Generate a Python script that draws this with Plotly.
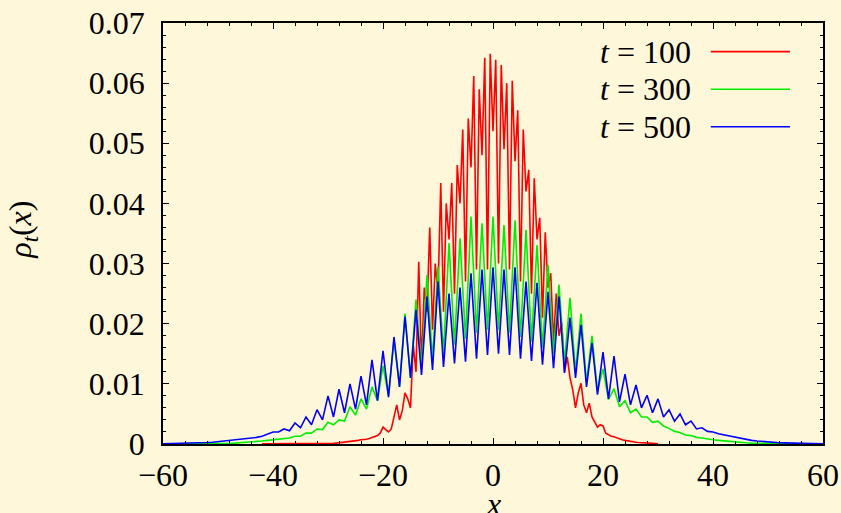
import numpy as np
import plotly.graph_objects as go

# Density profiles rho_t(x) at three times
x_int = np.arange(-60, 61, 1)          # lattice grid for t = 300 and t = 500
x_red = np.arange(-42, 30.5, 0.5)      # finer grid for t = 100

rho_100 = [
    # -42 .. -30.5
    0.00002, 0.00002, 0.00002, 0.00002, 0.00002, 0.00002, 0.00002, 0.00002,
    0.00002, 0.00002, 0.00002, 0.00002, 0.00002, 0.00002, 0.00002, 0.00002,
    0.00002, 0.00002, 0.00002, 0.00002, 0.00003, 0.00003, 0.00004, 0.00004,
    # -30 .. -0.5
    0.00005, 0.00008, 0.0001, 0.00015, 0.0002, 0.00025, 0.0003, 0.0003,
    0.0004, 0.0004, 0.0005, 0.0006, 0.0007, 0.0007, 0.0008, 0.0009,
    0.0011, 0.0012, 0.0014, 0.0018, 0.0028, 0.0024, 0.002, 0.0025,
    0.0045, 0.0065, 0.004, 0.0055, 0.0085, 0.0075, 0.006, 0.0165,
    0.012, 0.0303, 0.013, 0.026, 0.022, 0.036, 0.019, 0.030,
    0.025, 0.0434, 0.022, 0.040, 0.034, 0.0434, 0.025, 0.0464,
    0.040, 0.0523, 0.027, 0.0541, 0.046, 0.0612, 0.029, 0.059,
    0.048, 0.0642, 0.029, 0.0649,
    # 0 .. 30
    0.052, 0.0639, 0.030, 0.063, 0.049, 0.060, 0.029, 0.0604,
    0.047, 0.0555, 0.027, 0.0523, 0.042, 0.0456, 0.025, 0.0442,
    0.034, 0.0376, 0.021, 0.0352, 0.026, 0.0284, 0.017, 0.025,
    0.018, 0.0201, 0.012, 0.0145, 0.011, 0.009, 0.006, 0.0085,
    0.0101, 0.0065, 0.0052, 0.0068, 0.0045, 0.0035, 0.0028, 0.0032,
    0.0030, 0.0018, 0.0015, 0.0013, 0.0012, 0.0010, 0.0008, 0.0007,
    0.0006, 0.0005, 0.0004, 0.00035, 0.0003, 0.00025, 0.0002, 0.00018,
    0.00015, 0.00012, 0.0001, 0.00008, 0.00005,
]

rho_300 = [
    # -60 .. -1
    0.00001, 0.00001, 0.00001, 0.00002, 0.00002, 0.00002, 0.00003, 0.00004,
    0.00005, 0.00006, 0.00008, 0.0001, 0.00012, 0.00015, 0.0002, 0.00025,
    0.0003, 0.0004, 0.0005, 0.0006, 0.0007, 0.0008, 0.001, 0.001,
    0.0013, 0.0013, 0.0018, 0.0018, 0.0025, 0.0024, 0.0036, 0.0032,
    0.0040, 0.0038, 0.0062, 0.0048, 0.0075, 0.0058, 0.0095, 0.0072,
    0.0130, 0.0080, 0.0173, 0.0095, 0.0217, 0.0110, 0.0240, 0.0125,
    0.0281, 0.0140, 0.0295, 0.0150, 0.0334, 0.0165, 0.0342, 0.0175,
    0.0378, 0.0185, 0.0367, 0.0190,
    # 0 .. 60
    0.0378, 0.0190, 0.0364, 0.0185, 0.0372, 0.0178, 0.0356, 0.0170,
    0.0331, 0.0160, 0.0298, 0.0150, 0.0265, 0.0135, 0.0243, 0.0120,
    0.0217, 0.0102, 0.0180, 0.0088, 0.0125, 0.0074, 0.0092, 0.0062,
    0.0072, 0.0052, 0.0058, 0.0045, 0.0045, 0.0036, 0.0038, 0.0030,
    0.0026, 0.0021, 0.0019, 0.0015, 0.0014, 0.0011, 0.0010, 0.0008,
    0.0007, 0.0006, 0.0005, 0.0004, 0.0003, 0.00025, 0.0002, 0.00015,
    0.00012, 0.0001, 0.00008, 0.00006, 0.00005, 0.00004, 0.00003, 0.00002,
    0.00002, 0.00002, 0.00001, 0.00001, 0.00001,
]

rho_500 = [
    # -60 .. -1
    0.00005, 0.00006, 0.00008, 0.0001, 0.0001, 0.00012, 0.00015, 0.0002,
    0.00025, 0.0003, 0.0004, 0.00045, 0.0005, 0.0006, 0.0007, 0.0008,
    0.0010, 0.0011, 0.0013, 0.0016, 0.0020, 0.0020, 0.0025, 0.0022,
    0.0035, 0.0027, 0.0045, 0.0032, 0.0057, 0.0040, 0.0080, 0.0045,
    0.0091, 0.0052, 0.0100, 0.0058, 0.0113, 0.0065, 0.0140, 0.0072,
    0.0155, 0.0078, 0.0178, 0.0095, 0.0212, 0.0110, 0.0223, 0.0115,
    0.0245, 0.0123, 0.0270, 0.0128, 0.0250, 0.0134, 0.0260, 0.0137,
    0.0284, 0.0142, 0.0290, 0.0148,
    # 0 .. 60
    0.0294, 0.0150, 0.0290, 0.0148, 0.0294, 0.0142, 0.0270, 0.0138,
    0.0268, 0.0132, 0.0253, 0.0126, 0.0245, 0.0118, 0.0210, 0.0110,
    0.0198, 0.0095, 0.0168, 0.0082, 0.0153, 0.0075, 0.0146, 0.0070,
    0.0116, 0.0065, 0.0098, 0.0060, 0.0081, 0.0052, 0.0075, 0.0045,
    0.0057, 0.0038, 0.0050, 0.0032, 0.0038, 0.0025, 0.0027, 0.0021,
    0.0020, 0.0017, 0.0015, 0.0013, 0.0012, 0.0010, 0.0008, 0.0006,
    0.0005, 0.0004, 0.0003, 0.00025, 0.0002, 0.00018, 0.00015, 0.00012,
    0.0001, 0.0001, 0.00008, 0.00006, 0.00005,
]

series = [
    ("<i>t</i> = 100", x_red, rho_100, "#ff0000"),
    ("<i>t</i> = 300", x_int, rho_300, "#00ee00"),
    ("<i>t</i> = 500", x_int, rho_500, "#0000ff"),
]

x_ticks = [-60, -40, -20, 0, 20, 40, 60]
y_ticks = [0, 0.01, 0.02, 0.03, 0.04, 0.05, 0.06, 0.07]
y_labels = ["0", "0.01", "0.02", "0.03", "0.04", "0.05", "0.06", "0.07"]

BG = "#fef7d9"
FONT = "Liberation Serif, Times New Roman, serif"
FS = 32

fig = go.Figure()
for name, xs, ys, color in series:
    fig.add_trace(go.Scatter(x=xs, y=ys, mode="lines", name=name,
                             line=dict(color=color, width=1.6),
                             showlegend=False))

axis_common = dict(
    showgrid=False, zeroline=False, showline=True, linecolor="black",
    linewidth=1.5, mirror="allticks", ticks="inside", ticklen=6,
    tickwidth=1, tickcolor="black", automargin=False,
    tickfont=dict(family=FONT, size=FS, color="black"),
)

fig.update_xaxes(range=[-60, 60], tickvals=x_ticks,
                 ticktext=[f"\u2212{abs(v)}" if v < 0 else str(v) for v in x_ticks],
                 minor=dict(dtick=4, ticks="inside", ticklen=3, tickcolor="black"),
                 ticklabelstandoff=2, **axis_common)
fig.update_yaxes(range=[0, 0.07], tickvals=y_ticks, ticktext=y_labels,
                 minor=dict(dtick=0.002, ticks="inside", ticklen=3, tickcolor="black"),
                 ticklabelstandoff=10, **axis_common)

# Legend drawn gnuplot-style: label on the left, line sample on the right
legend_y = [0.932, 0.8425, 0.7537]
annotations = []
shapes = []
for (name, _, _, color), ly in zip(series, legend_y):
    annotations.append(dict(x=0.803, y=ly, xref="paper", yref="paper",
                            text=name, showarrow=False, xanchor="right",
                            yanchor="middle",
                            font=dict(family=FONT, size=FS, color="black")))
    shapes.append(dict(type="line", xref="paper", yref="paper",
                       x0=0.830, x1=0.950, y0=ly, y1=ly,
                       line=dict(color=color, width=1.6)))

# Axis titles
annotations.append(dict(x=0.5, y=-0.143, xref="paper", yref="paper",
                        text="<i>x</i>", showarrow=False, yanchor="middle",
                        font=dict(family=FONT, size=FS, color="black")))
annotations.append(dict(x=-0.213, y=0.51, xref="paper", yref="paper",
                        text="<i>ρ</i><sub><i>t</i></sub>(<i>x</i>)",
                        showarrow=False, textangle=-90, xanchor="center",
                        yanchor="middle",
                        font=dict(family=FONT, size=FS, color="black")))

fig.update_layout(
    width=841, height=513,
    margin=dict(l=163, r=18, t=23, b=69),
    paper_bgcolor=BG, plot_bgcolor=BG,
    annotations=annotations, shapes=shapes,
)

fig.write_html("out.html")
